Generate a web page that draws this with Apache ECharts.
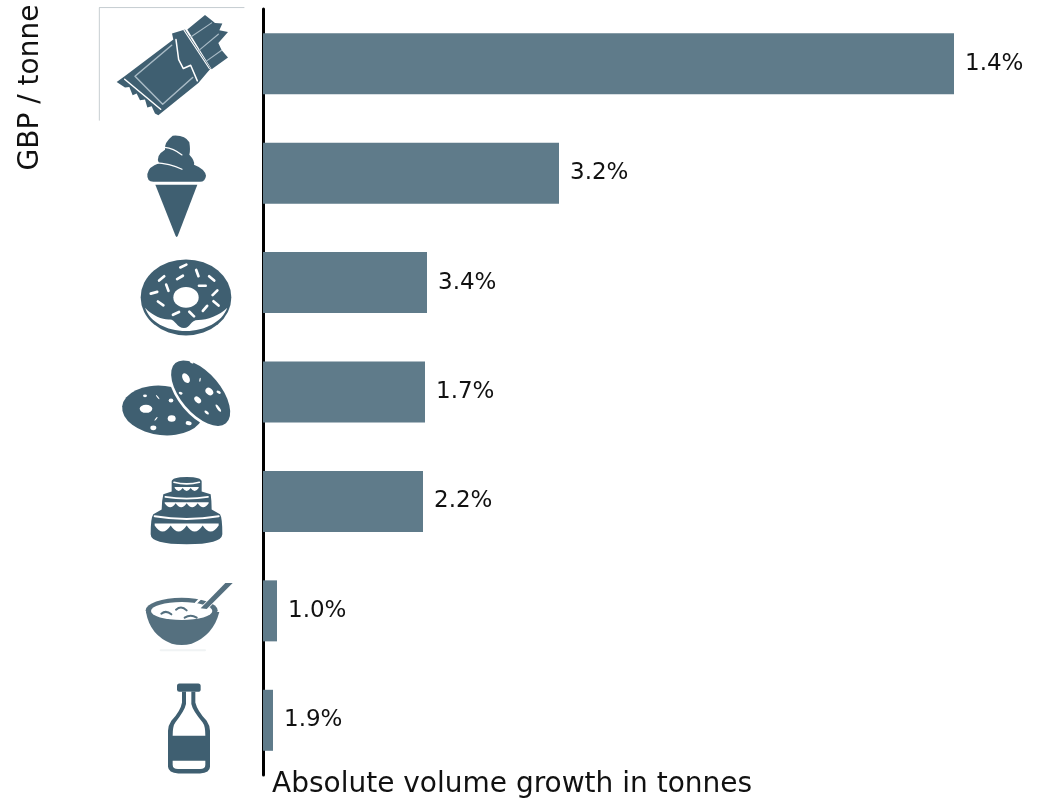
<!DOCTYPE html>
<html>
<head>
<meta charset="utf-8">
<style>html,body{margin:0;padding:0;background:#fff}#chart{width:1049px;height:802px}</style>
<script src="https://cdn.jsdelivr.net/npm/echarts@6/dist/echarts.min.js"></script>
</head>
<body>
<div id="chart"></div>
<script>
// Product categories, top to bottom
const categories = ['Chocolate', 'Ice cream', 'Doughnuts', 'Biscuits', 'Cakes', 'Cereals', 'Milk drinks'];
// Absolute volume growth (tonnes, indexed)
const volumeGrowth = [691, 296, 164, 162, 160, 14, 10];
// Growth rate printed beside each bar
const growthRates = ['1.4%', '3.2%', '3.4%', '1.7%', '2.2%', '1.0%', '1.9%'];

const FONT = '"DejaVu Sans"';
const DARK = '#3f5f71';
const SOFT = '#55707f';
const BAR = '#5f7b8a';
const WHITE = '#ffffff';

// Rotated ellipse as SVG path data
function ell(cx, cy, rx, ry, deg) {
  const a = (deg || 0) * Math.PI / 180, dx = rx * Math.cos(a), dy = rx * Math.sin(a);
  return `M${cx - dx},${cy - dy}A${rx},${ry},${deg || 0},1,1,${cx + dx},${cy + dy}A${rx},${ry},${deg || 0},1,1,${cx - dx},${cy - dy}Z`;
}
const fill = (d, c) => ({ d, fill: c || DARK });
const line = (d, w, c) => ({ d, stroke: c || WHITE, w: w || 4 });

// Icon drawings; each lists its offset from the bar's centre and its shapes at 3x scale
const sprinkle = (x, y, deg) => line(`M${x - 10 * Math.cos(deg * Math.PI / 180)},${y - 10 * Math.sin(deg * Math.PI / 180)}L${x + 10 * Math.cos(deg * Math.PI / 180)},${y + 10 * Math.sin(deg * Math.PI / 180)}`, 8);
const chip = (x, y, rx, ry, deg) => fill(ell(x, y, rx, ry, deg), WHITE);
// White band whose lower edge is a row of rounded scallops
const scallops = (x0, x1, top, bottom, n, depth) => {
  const step = (x1 - x0) / n;
  let d = `M${x0},${top}L${x1},${top}L${x1},${bottom}`;
  for (let i = n - 1; i >= 0; i--) d += `Q${x0 + (i + 0.5) * step},${bottom + depth} ${x0 + i * step},${bottom}`;
  return fill(d + 'Z', WHITE);
};

const icons = [
  { dy: -63.5, parts: [
    line('M462,22L28,22L28,360', 1.5, '#8d9aa2'),
    fill('M80,245L108,225L250,118L246,100L285,88L362,205L325,248L205,345L195,340L185,318L172,322L165,298L150,300L140,280L128,285L118,260L105,262Z'),
    fill('M292,88L345,44L365,60L375,68L397,70L388,90L414,95L385,128L395,150L414,172L365,207Z'),
    line('M282,90L358,205', 3.5),
    line('M300,112L365,68M325,152L385,102M350,182L395,150', 3.5, '#a9bbc6'),
    line('M258,118L266,178L280,205L302,195L322,242', 4.5),
    line('M245,135L135,228L218,312L308,232', 4.5, '#a9bbc6'),
    line('M104,237L212,327', 4.5)
  ]},
  { dy: -172.5, parts: [
    fill('M196,552L322,552L264,704Q260,714 256,704Z'),
    fill('M190,543Q170,543 172,520Q176,498 207,488Q195,465 225,447Q222,425 248,405Q285,402 298,425Q302,450 298,462Q315,480 312,492Q345,505 348,525Q346,543 330,543Z'),
    line('M224,440Q250,442 276,463', 3.5),
    line('M193,486Q240,488 276,506', 3.5)
  ]},
  { dy: -42.5, parts: [
    fill(ell(288, 172, 136, 114)),
    fill('M165,203C190,230 222,240 240,238C255,238 262,264 282,264C302,264 300,240 325,240C352,240 388,226 412,203C396,246 345,272 288,273C228,272 180,246 165,203Z', WHITE),
    fill(ell(288, 172, 38, 31), WHITE),
    sprinkle(280, 78, -25), sprinkle(322, 99, 70), sprinkle(365, 115, 40),
    sprinkle(215, 115, -40), sprinkle(270, 112, -30), sprinkle(232, 143, 70),
    sprinkle(337, 137, 0), sprinkle(375, 158, -45), sprinkle(192, 158, -15),
    sprinkle(212, 190, 35), sprinkle(378, 190, 40), sprinkle(345, 205, -50),
    sprinkle(258, 220, -25), sprinkle(305, 222, 45)
  ]},
  { dy: -151.5, parts: [
    fill(ell(218, 510, 122, 74, 6)),
    fill(ell(332, 458, 126, 68, 50), WHITE),
    fill(ell(332, 458, 118, 60, 50)),
    chip(168, 505, 19, 12, 0), chip(245, 534, 12, 10, 0), chip(296, 548, 9, 6, 15),
    chip(190, 562, 9, 7, 0), chip(165, 466, 6, 4, 0), chip(203, 470, 8, 2, 50),
    chip(288, 413, 16, 10, 60), chip(358, 453, 13, 10, 45), chip(323, 478, 12, 8, 45),
    chip(385, 503, 13, 4, 55), chip(350, 516, 8, 4, 40), chip(305, 365, 6, 3, 30),
    chip(330, 418, 6, 2, 100), chip(386, 455, 7, 4, 30), chip(272, 458, 6, 4, 20),
    chip(198, 535, 7, 2, -50), chip(243, 480, 7, 6, 0)
  ]},
  { dy: -260.5, parts: [
    fill('M245,722Q245,708 290,708Q335,708 335,722L335,752L362,760Q365,780 365,806L390,820Q397,830 397,880Q395,910 290,910Q182,910 182,880Q182,830 190,820L215,806Q215,780 220,760L245,752Z'),
    line('M252,724Q290,734 328,724', 5),
    scallops(254, 326, 738, 741, 3, 18),
    line('M226,768Q290,778 354,768', 5),
    scallops(224, 356, 784, 787, 4, 24),
    line('M194,826Q290,842 386,826', 6),
    scallops(194, 386, 848, 854, 4, 36)
  ]},
  { dy: -50.5, parts: [
    fill(ell(275, 150, 108, 38), SOFT),
    fill('M168,155Q180,225 245,250Q275,258 305,250Q370,225 388,155Z', SOFT),
    fill(ell(275, 152, 92, 27), WHITE),
    line('M330,116L318,128', 7),
    fill('M326,146L404,68L430,68L350,150Z', WHITE),
    fill('M332,144L406,68L428,68L350,146Z', SOFT),
    line('M214,160Q228,148 244,162M258,148Q274,134 290,150M284,172Q302,160 320,172', 6, SOFT),
    line('M212,270L345,270', 6, '#f0f3f4')
  ]},
  { dy: -159.5, parts: [
    fill('M268,368L325,368Q332,368 332,376L332,386Q332,393 324,393L268,393Q261,393 261,386L261,376Q261,368 268,368Z'),
    fill('M276,393L316,393L316,425Q322,450 350,480Q360,495 360,510L360,618Q360,636 330,638L265,638Q235,636 234,618L234,510Q234,495 244,480Q272,450 276,425Z'),
    fill('M288,393L304,393L304,430Q308,450 338,485Q346,495 346,525L248,525Q248,495 256,485Q284,450 288,430Z', WHITE),
    fill('M248,600L346,600L346,612Q346,625 330,625L264,625Q248,625 248,612Z', WHITE)
  ]}
];

// Icons sit left of the axis, anchored to each category through the axis scale
function renderIcon(params, api) {
  const p = api.coord([0, api.value(1)]);
  const icon = icons[params.dataIndex];
  return {
    type: 'group',
    x: p[0] - 173,
    y: p[1] + icon.dy,
    scaleX: 1 / 3,
    scaleY: 1 / 3,
    silent: true,
    children: icon.parts.map(part => ({
      type: 'path',
      shape: { pathData: part.d },
      style: part.stroke
        ? { fill: null, stroke: part.stroke, lineWidth: part.w, lineCap: 'round', lineJoin: 'round' }
        : { fill: part.fill }
    }))
  };
}

const chart = echarts.init(document.getElementById('chart'), null, { renderer: 'canvas' });
chart.setOption({
  animation: false,
  backgroundColor: '#ffffff',
  grid: { left: 263, right: 0, top: 9, bottom: 27 },
  xAxis: { type: 'value', min: 0, max: 786, show: false },
  yAxis: {
    type: 'category',
    inverse: true,
    data: categories,
    axisLine: { show: true, lineStyle: { color: '#000000', width: 3 } },
    axisTick: { show: false },
    axisLabel: { show: false }
  },
  series: [
    {
      type: 'bar',
      data: volumeGrowth,
      barWidth: 61,
      itemStyle: { color: BAR },
      label: {
        show: true,
        position: 'right',
        distance: 11,
        formatter: p => growthRates[p.dataIndex],
        color: '#111111',
        fontFamily: FONT,
        fontSize: 23
      }
    },
    {
      type: 'custom',
      renderItem: renderIcon,
      clip: false,
      encode: { x: 0, y: 1 },
      data: categories.map((c, i) => [0, i]),
      z: 5
    }
  ],
  graphic: [
    {
      type: 'text', left: 272, top: 771,
      style: { text: 'Absolute volume growth in tonnes', fill: '#111111', font: `28px ${FONT}` }
    },
    {
      type: 'text', x: 31, y: 87.5, originX: 0, originY: 0, rotation: Math.PI / 2,
      style: { text: 'GBP / tonne', fill: '#111111', font: `28px ${FONT}`, align: 'center', verticalAlign: 'middle' }
    }
  ]
});
</script>
</body>
</html>
